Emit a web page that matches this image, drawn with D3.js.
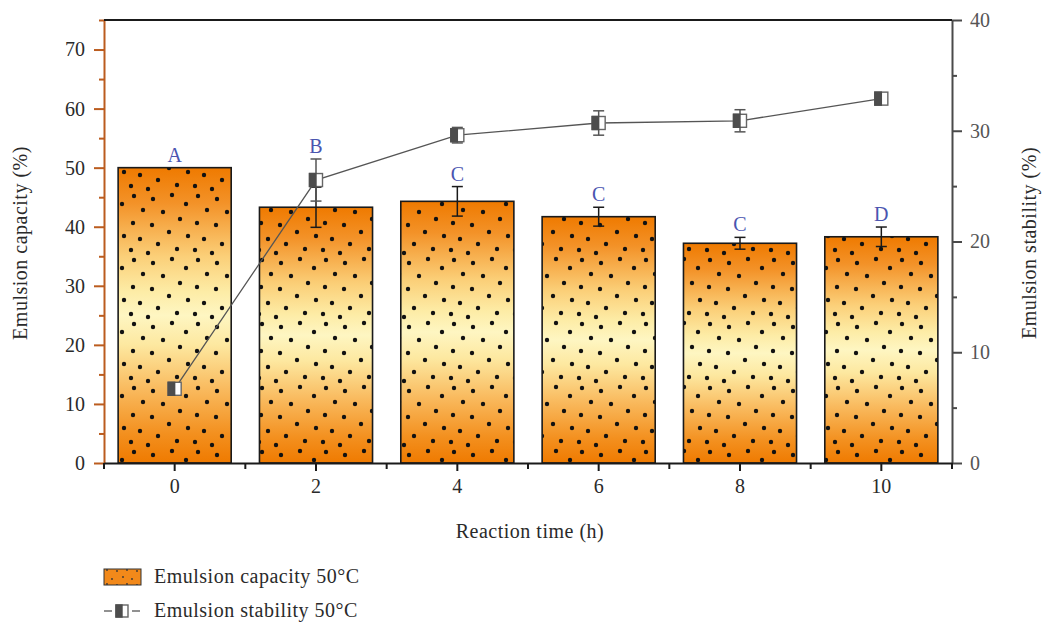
<!DOCTYPE html>
<html>
<head>
<meta charset="utf-8">
<script src="https://cdn.jsdelivr.net/npm/d3@7"></script>
<style>
  html, body { margin: 0; padding: 0; background: #fff; }
  svg { display: block; }
  text { font-family: "Liberation Serif", "DejaVu Serif", serif; }
</style>
</head>
<body>
<svg id="chart" width="1045" height="624"></svg>
<script>
// ---------- data ----------
const categories = ["0", "2", "4", "6", "8", "10"];
const capacity = [50.0, 43.3, 44.3, 41.7, 37.2, 38.3];      // Emulsion capacity (%), left axis
const capacityErr = [0, 3.4, 2.5, 1.6, 1.0, 1.65];
const stability = [6.7, 25.55, 29.6, 30.7, 30.9, 32.9];      // Emulsion stability (%), right axis
const stabilityErr = [0, 1.9, 0.7, 1.1, 1.0, 0.3];
const letters = ["A", "B", "C", "C", "C", "D"];
const leftTicks = [0, 10, 20, 30, 40, 50, 60, 70];
const leftMinor = [5, 15, 25, 35, 45, 55, 65, 75];
const rightTicks = [0, 10, 20, 30, 40];
const rightMinor = [5, 15, 25, 35];
const xTitle = "Reaction time (h)";
const yLeftTitle = "Emulsion capacity (%)";
const yRightTitle = "Emulsion stability (%)";
const legendLabels = ["Emulsion capacity 50°C", "Emulsion stability 50°C"];

// ---------- layout ----------
const svg = d3.select("#chart");
const L = 104, R = 952, T = 20, B = 463;
const x = d3.scaleBand().domain(categories).range([L, R]).paddingInner(0.2).paddingOuter(0.1);
const yL = d3.scaleLinear().domain([0, 75]).range([B, T]);
const yR = d3.scaleLinear().domain([0, 40]).range([B, T]);
const cx = c => x(c) + x.bandwidth() / 2;
const FS = "20px";

const defs = svg.append("defs");
const grad = defs.append("linearGradient").attr("id", "barGrad")
  .attr("x1", 0).attr("y1", 0).attr("x2", 0).attr("y2", 1);
[[0, "#ef7a00"], [0.12, "#f39228"], [0.3, "#fbcf78"], [0.42, "#fdeca6"], [0.5, "#fef6c2"],
 [0.6, "#fde8a0"], [0.75, "#f9ba5e"], [0.9, "#f3901f"], [1, "#ef7a00"]]
  .forEach(([o, c]) => grad.append("stop").attr("offset", o).attr("stop-color", c));

// decorative dot texture
const pat = defs.append("pattern").attr("id", "dots").attr("patternUnits", "userSpaceOnUse")
  .attr("width", 64).attr("height", 64);
[[6,4],[25,7],[44,3],[58,12],[15,18],[35,20],[52,27],[5,31],[24,33],[41,40],[60,44],[12,47],[30,52],[49,57],[20,61],[3,58]]
  .forEach(([px, py]) => pat.append("circle").attr("cx", px).attr("cy", py).attr("r", 2.2).attr("fill", "#111"));
const pat2 = defs.append("pattern").attr("id", "dotsSmall").attr("patternUnits", "userSpaceOnUse")
  .attr("width", 20).attr("height", 14);
[[3,3],[12,5],[7,10],[17,11]]
  .forEach(([px, py]) => pat2.append("circle").attr("cx", px).attr("cy", py).attr("r", 0.9).attr("fill", "#333"));

// ---------- bars ----------
const bars = svg.append("g");
categories.forEach((c, i) => {
  const y0 = yL(capacity[i]);
  bars.append("rect").attr("x", x(c)).attr("y", y0).attr("width", x.bandwidth()).attr("height", B - y0)
    .attr("fill", "url(#barGrad)");
  bars.append("rect").attr("x", x(c)).attr("y", y0).attr("width", x.bandwidth()).attr("height", B - y0)
    .attr("fill", "url(#dots)").attr("stroke", "#1a1a1a").attr("stroke-width", 1.6);
});

// bar error bars
const eb = svg.append("g").attr("stroke", "#1a1a1a").attr("stroke-width", 1.5);
categories.forEach((c, i) => {
  if (!capacityErr[i]) return;
  const xc = cx(c), yt = yL(capacity[i] + capacityErr[i]), yb = yL(capacity[i] - capacityErr[i]);
  eb.append("line").attr("x1", xc).attr("x2", xc).attr("y1", yt).attr("y2", yb);
  eb.append("line").attr("x1", xc - 5.5).attr("x2", xc + 5.5).attr("y1", yt).attr("y2", yt);
  eb.append("line").attr("x1", xc - 5.5).attr("x2", xc + 5.5).attr("y1", yb).attr("y2", yb);
});

// ---------- axes ----------
const axisFont = g => g.selectAll("text").style("font-family", "'Liberation Serif', serif").style("font-size", FS);

const gl = svg.append("g").attr("transform", `translate(${L},0)`);
gl.call(d3.axisLeft(yL).tickValues(leftTicks).tickSize(10).tickSizeOuter(0).tickPadding(9));
gl.append("g").call(d3.axisLeft(yL).tickValues(leftMinor).tickSize(5).tickFormat("")).select(".domain").remove();
gl.selectAll("line, path").attr("stroke", "#bb5c1f").attr("stroke-width", 2);
gl.selectAll("text").attr("fill", "#2a2a2a");
axisFont(gl);

const gr = svg.append("g").attr("transform", `translate(${R},0)`);
gr.call(d3.axisRight(yR).tickValues(rightTicks).tickSize(10).tickSizeOuter(0).tickPadding(8));
gr.append("g").call(d3.axisRight(yR).tickValues(rightMinor).tickSize(5).tickFormat("")).select(".domain").remove();
gr.selectAll("line, path").attr("stroke", "#4a4a4a").attr("stroke-width", 2);
gr.selectAll("text").attr("fill", "#555");
axisFont(gr);

const gb = svg.append("g").attr("transform", `translate(0,${B})`);
gb.call(d3.axisBottom(x).tickSize(8).tickSizeOuter(0).tickPadding(8));
const bounds = d3.range(categories.length + 1).map(k => L + k * x.step());
bounds.forEach(bx => gb.append("line").attr("x1", bx).attr("x2", bx).attr("y1", 0).attr("y2", 6));
gb.selectAll("line, path").attr("stroke", "#1a1a1a").attr("stroke-width", 2);
gb.selectAll("text").attr("fill", "#2a2a2a");
axisFont(gb);

svg.append("line").attr("x1", L).attr("x2", R).attr("y1", T).attr("y2", T)
  .attr("stroke", "#1a1a1a").attr("stroke-width", 2);

// ---------- stability line ----------
const lineGen = d3.line().x((d, i) => cx(categories[i])).y(d => yR(d));
svg.append("path").datum(stability).attr("d", lineGen).attr("fill", "none")
  .attr("stroke", "#555").attr("stroke-width", 1.3);

const le = svg.append("g").attr("stroke", "#555").attr("stroke-width", 1.5);
categories.forEach((c, i) => {
  if (!stabilityErr[i]) return;
  const xc = cx(c), yt = yR(stability[i] + stabilityErr[i]), yb = yR(stability[i] - stabilityErr[i]);
  le.append("line").attr("x1", xc).attr("x2", xc).attr("y1", yt).attr("y2", yb);
  le.append("line").attr("x1", xc - 5.5).attr("x2", xc + 5.5).attr("y1", yt).attr("y2", yt);
  le.append("line").attr("x1", xc - 5.5).attr("x2", xc + 5.5).attr("y1", yb).attr("y2", yb);
});

function halfSquare(g, xc, yc, s) {
  g.append("rect").attr("x", xc - s / 2).attr("y", yc - s / 2).attr("width", s).attr("height", s)
    .attr("fill", "#fff").attr("stroke", "#666").attr("stroke-width", 1.4);
  g.append("rect").attr("x", xc - s / 2).attr("y", yc - s / 2).attr("width", s / 2).attr("height", s)
    .attr("fill", "#4d4d4d").attr("stroke", "#4d4d4d").attr("stroke-width", 1.4);
}
const pts = svg.append("g");
categories.forEach((c, i) => halfSquare(pts, cx(c), yR(stability[i]), 13));

// ---------- significance letters ----------
const lg = svg.append("g");
categories.forEach((c, i) => {
  let top = yL(capacity[i] + capacityErr[i]);
  const lineBottom = yR(stability[i] - stabilityErr[i]);
  if (lineBottom > top - 30) top = Math.min(top, yR(stability[i] + stabilityErr[i]));
  lg.append("text").attr("x", cx(c)).attr("y", top - 6).attr("text-anchor", "middle")
    .attr("fill", "#4a55b0").style("font-size", FS).text(letters[i]);
});

// ---------- titles ----------
const titleStyle = t => t.attr("fill", "#2a2a2a").style("font-size", FS).style("letter-spacing", "0.5px");
svg.append("text").attr("x", (L + R) / 2 + 2).attr("y", 538).attr("text-anchor", "middle")
  .call(titleStyle).text(xTitle);
svg.append("text").attr("transform", "translate(27,243) rotate(-90)").attr("text-anchor", "middle")
  .call(titleStyle).text(yLeftTitle);
svg.append("text").attr("transform", "translate(1036,243) rotate(-90)").attr("text-anchor", "middle")
  .call(titleStyle).text(yRightTitle);

// ---------- legend ----------
const leg = svg.append("g");
leg.append("rect").attr("x", 104).attr("y", 569).attr("width", 37).attr("height", 16)
  .attr("fill", "#f2891a");
leg.append("rect").attr("x", 104).attr("y", 569).attr("width", 37).attr("height", 16)
  .attr("fill", "url(#dotsSmall)").attr("stroke", "#333").attr("stroke-width", 1);
leg.append("text").attr("x", 154).attr("y", 583).call(titleStyle).text(legendLabels[0]);
leg.append("line").attr("x1", 104).attr("x2", 112).attr("y1", 611).attr("y2", 611).attr("stroke", "#555").attr("stroke-width", 1.3);
leg.append("line").attr("x1", 132).attr("x2", 140).attr("y1", 611).attr("y2", 611).attr("stroke", "#555").attr("stroke-width", 1.3);
halfSquare(leg, 122, 611, 12);
leg.append("text").attr("x", 154).attr("y", 617).call(titleStyle).text(legendLabels[1]);
</script>
</body>
</html>
